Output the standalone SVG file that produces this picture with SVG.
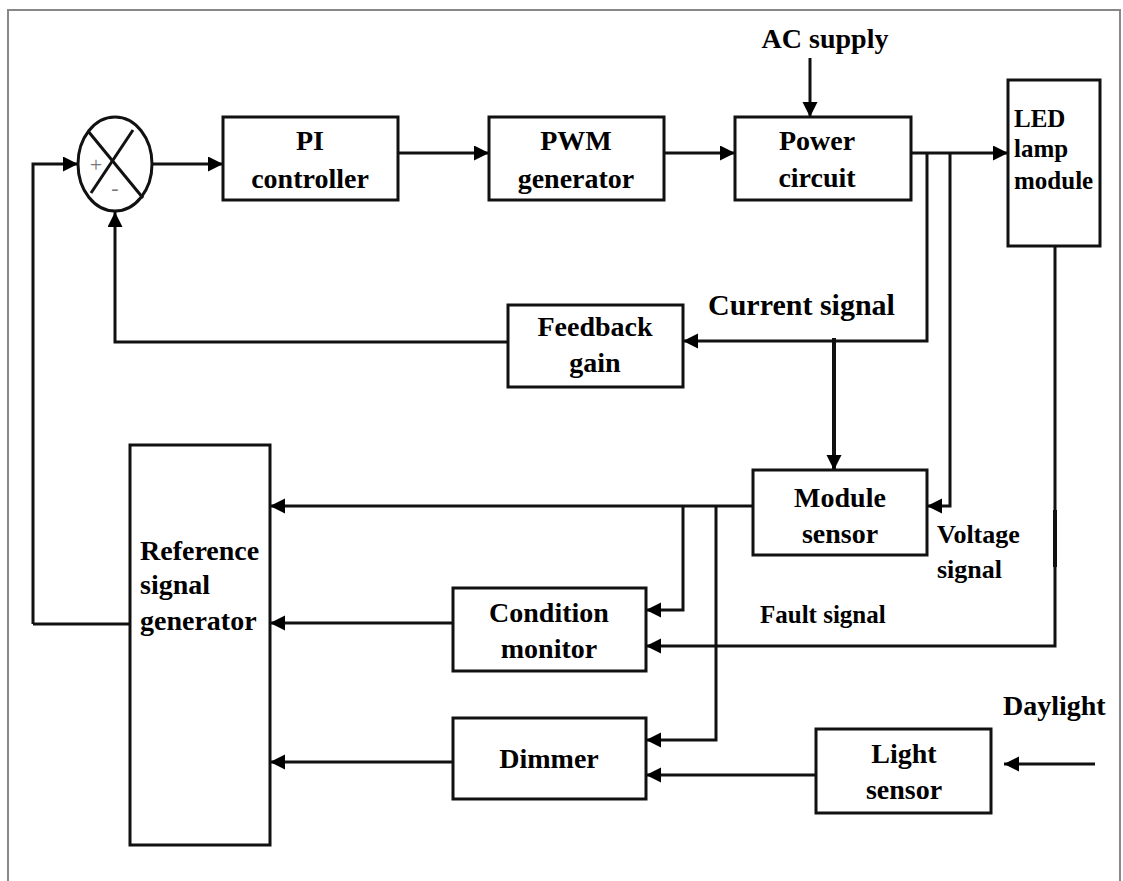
<svg xmlns="http://www.w3.org/2000/svg" width="1123" height="881" viewBox="0 0 1123 881">
<defs>
<marker id="ah" markerUnits="userSpaceOnUse" markerWidth="16" markerHeight="16" refX="15" refY="7.5" orient="auto">
<path d="M0,0 L15,7.5 L0,15 z" fill="#000"/>
</marker>
<style>
.box{fill:#fff;stroke:#111;stroke-width:3}
.ln{fill:none;stroke:#111;stroke-width:3}
.ar{fill:none;stroke:#111;stroke-width:3;marker-end:url(#ah)}
text{font-family:"Liberation Serif","Times New Roman",serif;font-weight:bold;fill:#000}
.t{font-size:28px;text-anchor:middle}
.s{font-size:25px}
</style>
</defs>
<rect width="1123" height="881" fill="#fff"/>
<path d="M8,881 L8,10 L1120,10 L1120,881" fill="none" stroke="#888" stroke-width="2"/>

<g id="connectors">
<path class="ar" d="M33,624 L33,164 L78,164"/>
<path class="ln" d="M130,624 L33,624"/>
<path class="ar" d="M152,164 L223,164"/>
<path class="ar" d="M398,153 L489,153"/>
<path class="ar" d="M664,153 L735,153"/>
<path class="ar" d="M810,58 L810,117"/>
<path class="ar" d="M911,153 L1008,153"/>
<path class="ar" d="M927,153 L927,341 L683,341"/>
<path class="ar" d="M950,153 L950,506 L927,506"/>
<path class="ar" d="M834,338 L834,470" style="stroke-width:4"/>
<path class="ar" d="M508,342 L115,342 L115,212"/>
<path class="ar" d="M753,506 L270,506"/>
<path class="ar" d="M683,506 L683,610 L646,610"/>
<path class="ar" d="M716,506 L716,740 L646,740"/>
<path class="ar" d="M1055,246 L1055,646 L646,646"/>
<path class="ln" d="M1055,510 L1055,567" style="stroke-width:4"/>
<path class="ar" d="M453,623 L270,623"/>
<path class="ar" d="M453,762 L270,762"/>
<path class="ar" d="M816,775 L646,775"/>
<path class="ar" d="M1095,764 L1004,764"/>
</g>

<g id="sum">
<ellipse cx="115" cy="164" rx="37" ry="47" fill="#fff" stroke="#111" stroke-width="3"/>
<line x1="88" y1="131" x2="143" y2="198" stroke="#111" stroke-width="3"/>
<line x1="133" y1="130" x2="91" y2="193" stroke="#111" stroke-width="3"/>
<text x="96" y="172" style="font-size:22px;font-weight:normal;fill:#777;text-anchor:middle">+</text>
<text x="115" y="195" style="font-size:22px;font-weight:normal;fill:#777;text-anchor:middle">-</text>
</g>

<g id="pi">
<rect class="box" x="223" y="117" width="175" height="83"/>
<text class="t" x="310" y="150">PI</text>
<text class="t" x="310" y="188">controller</text>
</g>

<g id="pwm">
<rect class="box" x="489" y="117" width="175" height="83"/>
<text class="t" x="576" y="150">PWM</text>
<text class="t" x="576" y="188">generator</text>
</g>

<g id="power">
<rect class="box" x="735" y="117" width="176" height="83"/>
<text class="t" x="817" y="150">Power</text>
<text class="t" x="817" y="187">circuit</text>
</g>

<g id="ac">
<text class="t" x="825" y="48">AC supply</text>
</g>

<g id="led">
<rect class="box" x="1008" y="80" width="92" height="166"/>
<text class="s" x="1014" y="127">LED</text>
<text class="s" x="1014" y="157">lamp</text>
<text class="s" x="1014" y="189">module</text>
</g>

<g id="feedback">
<rect class="box" x="508" y="305" width="175" height="82"/>
<text class="t" x="595" y="336">Feedback</text>
<text class="t" x="595" y="372">gain</text>
</g>

<g id="current">
<text x="708" y="315" style="font-size:30px">Current signal</text>
</g>

<g id="module">
<rect class="box" x="753" y="470" width="174" height="85"/>
<text class="t" x="840" y="507">Module</text>
<text class="t" x="840" y="543">sensor</text>
</g>

<g id="voltage">
<text x="937" y="543" style="font-size:26px">Voltage</text>
<text x="937" y="578" style="font-size:26px">signal</text>
</g>

<g id="reference">
<rect class="box" x="130" y="445" width="140" height="400"/>
<text x="140" y="560" style="font-size:28px">Reference</text>
<text x="140" y="594" style="font-size:28px">signal</text>
<text x="140" y="630" style="font-size:28px">generator</text>
</g>

<g id="condition">
<rect class="box" x="453" y="588" width="193" height="83"/>
<text class="t" x="549" y="622">Condition</text>
<text class="t" x="549" y="658">monitor</text>
</g>

<g id="fault">
<text class="s" x="760" y="623">Fault signal</text>
</g>

<g id="dimmer">
<rect class="box" x="453" y="718" width="193" height="81"/>
<text class="t" x="549" y="768">Dimmer</text>
</g>

<g id="light">
<rect class="box" x="816" y="729" width="175" height="84"/>
<text class="t" x="904" y="763">Light</text>
<text class="t" x="904" y="799">sensor</text>
</g>

<g id="daylight">
<text x="1003" y="715" style="font-size:28px">Daylight</text>
</g>
</svg>
